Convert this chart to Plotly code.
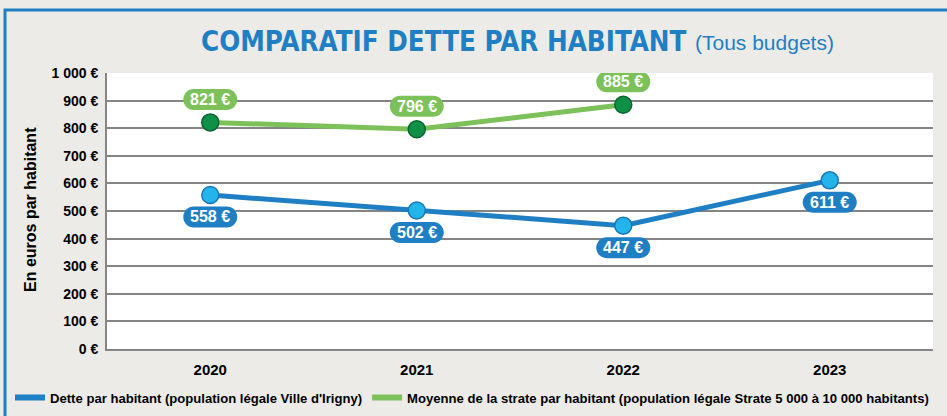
import plotly.graph_objects as go

years = ["2020", "2021", "2022", "2023"]
dette = [558, 502, 447, 611]
strate_years = ["2020", "2021", "2022"]
strate = [821, 796, 885]
y_ticks = [0, 100, 200, 300, 400, 500, 600, 700, 800, 900, 1000]
y_tick_labels = ["0 €", "100 €", "200 €", "300 €", "400 €", "500 €", "600 €", "700 €", "800 €", "900 €", "1 000 €"]
name_dette = "Dette par habitant (population légale Ville d'Irigny)"
name_strate = "Moyenne de la strate par habitant (population légale Strate 5 000 à 10 000 habitants)"

BLUE = "#1f7fc4"
GREEN = "#7cc15a"
BG = "#ecebe7"
GRID = "#858585"

W, H = 947, 416
L, R, T, B = 107, 14, 73, 67
PW, PH = W - L - R, H - T - B


def px2paper_x(px):
    return (px - L) / PW


def px2paper_y(py):
    return (H - B - py) / PH


fig = go.Figure()

fig.add_trace(go.Scatter(
    x=years, y=dette, mode="lines+markers", showlegend=False,
    line=dict(color=BLUE, width=5),
    marker=dict(size=17, color="#22b4ea", line=dict(color="#1a78b5", width=1.5)),
    cliponaxis=False,
))
fig.add_trace(go.Scatter(
    x=strate_years, y=strate, mode="lines+markers", showlegend=False,
    line=dict(color=GREEN, width=5),
    marker=dict(size=17, color="#109046", line=dict(color="#0a6630", width=1.5)),
    cliponaxis=False,
))
# legend-only traces
fig.add_trace(go.Scatter(x=[None], y=[None], mode="lines", name=name_dette,
                         line=dict(color=BLUE, width=6)))
fig.add_trace(go.Scatter(x=[None], y=[None], mode="lines", name=name_strate,
                         line=dict(color=GREEN, width=6)))


def pill_path(w, h, dy):
    r = h / 2
    k = 0.5523 * r
    x0, x1 = -w / 2, w / 2
    y0, y1 = dy - h / 2, dy + h / 2
    ym = dy
    return (f"M{x0 + r},{y0} L{x1 - r},{y0} "
            f"C{x1 - r + k},{y0} {x1},{ym - k} {x1},{ym} "
            f"C{x1},{ym + k} {x1 - r + k},{y1} {x1 - r},{y1} "
            f"L{x0 + r},{y1} "
            f"C{x0 + r - k},{y1} {x0},{ym + k} {x0},{ym} "
            f"C{x0},{ym - k} {x0 + r - k},{y0} {x0 + r},{y0} Z")


def add_label(x, y, color, shift):
    xi = years.index(x)
    fig.add_shape(type="path", xref="x", yref="y", xsizemode="pixel", ysizemode="pixel",
                  xanchor=xi, yanchor=y,
                  path=pill_path(54, 21, shift),
                  fillcolor=color, line=dict(width=0), layer="between")
    fig.add_annotation(x=xi, y=y, xref="x", yref="y", text=f"{y} €", showarrow=False,
                       yshift=shift, xanchor="center", yanchor="middle",
                       font=dict(family="Liberation Sans", size=16, color="white", weight="bold"))


for x, y in zip(years, dette):
    add_label(x, y, BLUE, -22)
for x, y in zip(strate_years, strate):
    add_label(x, y, GREEN, 23)

# frame
fig.add_shape(type="rect", xref="paper", yref="paper",
              x0=px2paper_x(5), x1=px2paper_x(1000), y0=px2paper_y(500), y1=px2paper_y(10),
              line=dict(color=BLUE, width=3), fillcolor="rgba(0,0,0,0)", layer="below")

# titles
fig.add_annotation(xref="paper", yref="paper", x=px2paper_x(688), y=px2paper_y(41),
                   xanchor="right", yanchor="middle", showarrow=False,
                   text="COMPARATIF DETTE PAR HABITANT",
                   font=dict(family="DejaVu Sans Condensed", size=27.5, color=BLUE, weight="bold"))
fig.add_annotation(xref="paper", yref="paper", x=px2paper_x(693), y=px2paper_y(43),
                   xanchor="left", yanchor="middle", showarrow=False,
                   text="(Tous budgets)",
                   font=dict(family="Liberation Sans", size=21, color=BLUE))
fig.add_annotation(xref="paper", yref="paper", x=px2paper_x(30), y=px2paper_y(210),
                   xanchor="center", yanchor="middle", showarrow=False, textangle=-90,
                   text="En euros par habitant",
                   font=dict(family="Liberation Sans", size=16, color="black", weight="bold"))

fig.update_layout(
    width=W, height=H,
    margin=dict(l=L, r=R, t=T, b=B, autoexpand=False),
    paper_bgcolor=BG, plot_bgcolor="white",
    showlegend=True,
    legend=dict(orientation="h", x=px2paper_x(10), y=px2paper_y(398), xanchor="left", yanchor="middle",
                bgcolor="rgba(0,0,0,0)", itemwidth=30, tracegroupgap=0,
                font=dict(family="Liberation Sans", size=13.1, color="black", weight="bold")),
    xaxis=dict(type="category", range=[-0.5, 3.5], showgrid=False, showline=True, linecolor=GRID, linewidth=2,
               ticks="", tickfont=dict(family="Liberation Sans", size=15, color="black", weight="bold"),
               ticklabelstandoff=6, fixedrange=True),
    yaxis=dict(range=[0, 1000], tickvals=y_ticks, ticktext=y_tick_labels,
               showgrid=True, gridcolor=GRID, gridwidth=2, showline=True, linecolor=GRID, linewidth=2,
               zeroline=False, ticks="", ticklabelstandoff=4,
               tickfont=dict(family="Liberation Sans", size=14, color="black", weight="bold"), fixedrange=True),
)

fig.write_html("out.html", config={"displayModeBar": False},
               post_script="document.body.style.margin='0';document.body.style.padding='0';")
